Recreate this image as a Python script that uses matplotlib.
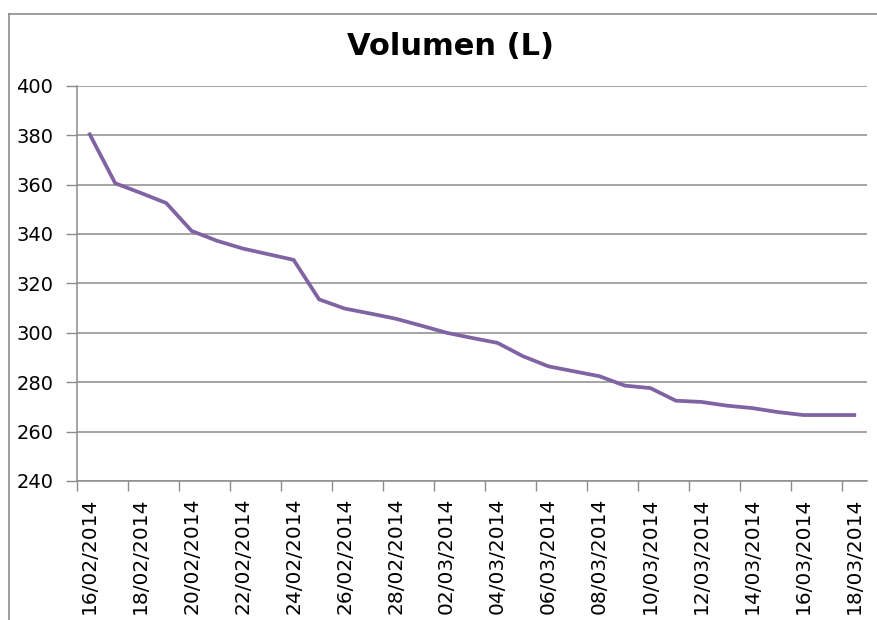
import numpy as np
import pandas as pd
import matplotlib
matplotlib.use('Agg')
import matplotlib.pyplot as plt
from matplotlib.lines import Line2D

# daily volume readings, 16/02/2014 .. 18/03/2014
dates = pd.date_range("2014-02-16", "2014-03-18", freq="D")
date_labels = [d.strftime("%d/%m/%Y") for d in dates]
volume = [380.3, 360.5, 356.6, 352.5, 341.2, 337.2, 334.1, 331.8, 329.5,
          313.5, 309.8, 307.8, 305.7, 302.9, 300.0, 297.9, 295.9, 290.5,
          286.4, 284.4, 282.4, 278.6, 277.6, 272.5, 272.0, 270.5, 269.5,
          267.9, 266.7, 266.7, 266.7]
y_ticks = [240, 260, 280, 300, 320, 340, 360, 380, 400]

grey = "#8c8c8c"
line_col = "#7f63a2"

fig = plt.figure(figsize=(8.78, 6.2), dpi=100)
ax = fig.add_axes([0.0877, 0.2242, 0.8998, 0.6376])

x = np.arange(len(volume))
ax.plot(x, volume, color=line_col, lw=2.7, solid_joinstyle="miter")

ax.set_xlim(-0.5, len(volume) - 0.5)
ax.set_ylim(240, 400)
ax.set_yticks(y_ticks)
ax.yaxis.grid(True, color=grey, lw=1.1)
ax.set_axisbelow(True)

# tick marks sit between categories, labels on every second category
ax.set_xticks(np.arange(-0.5, len(volume) - 1, 2))
ax.set_xticklabels([])
ax.set_xticks(x[::2], minor=True)
ax.set_xticklabels(date_labels[::2], minor=True, rotation=90)
ax.tick_params(axis="x", which="major", length=7, color=grey, width=1)
ax.tick_params(axis="x", which="minor", length=0, pad=12, labelsize=14.5)
ax.tick_params(axis="y", length=8, color=grey, width=1, pad=9, labelsize=14)

for s in ["top", "right"]:
    ax.spines[s].set_visible(False)
for s in ["left", "bottom"]:
    ax.spines[s].set_color(grey)
    ax.spines[s].set_linewidth(1.1)

fig.text(0.513, 0.925, "Volumen (L)", ha="center", va="center",
         fontsize=22, fontweight="bold")

# chart area border (partly cut off at the right and bottom)
bx, by = 8.5 / 878, 1 - 13.5 / 620
fig.add_artist(Line2D([bx, 1.0], [by, by], color=grey, lw=1.2))
fig.add_artist(Line2D([bx, bx], [0.0, by], color=grey, lw=1.2))

fig.savefig("out.png", dpi=100, facecolor="white")
